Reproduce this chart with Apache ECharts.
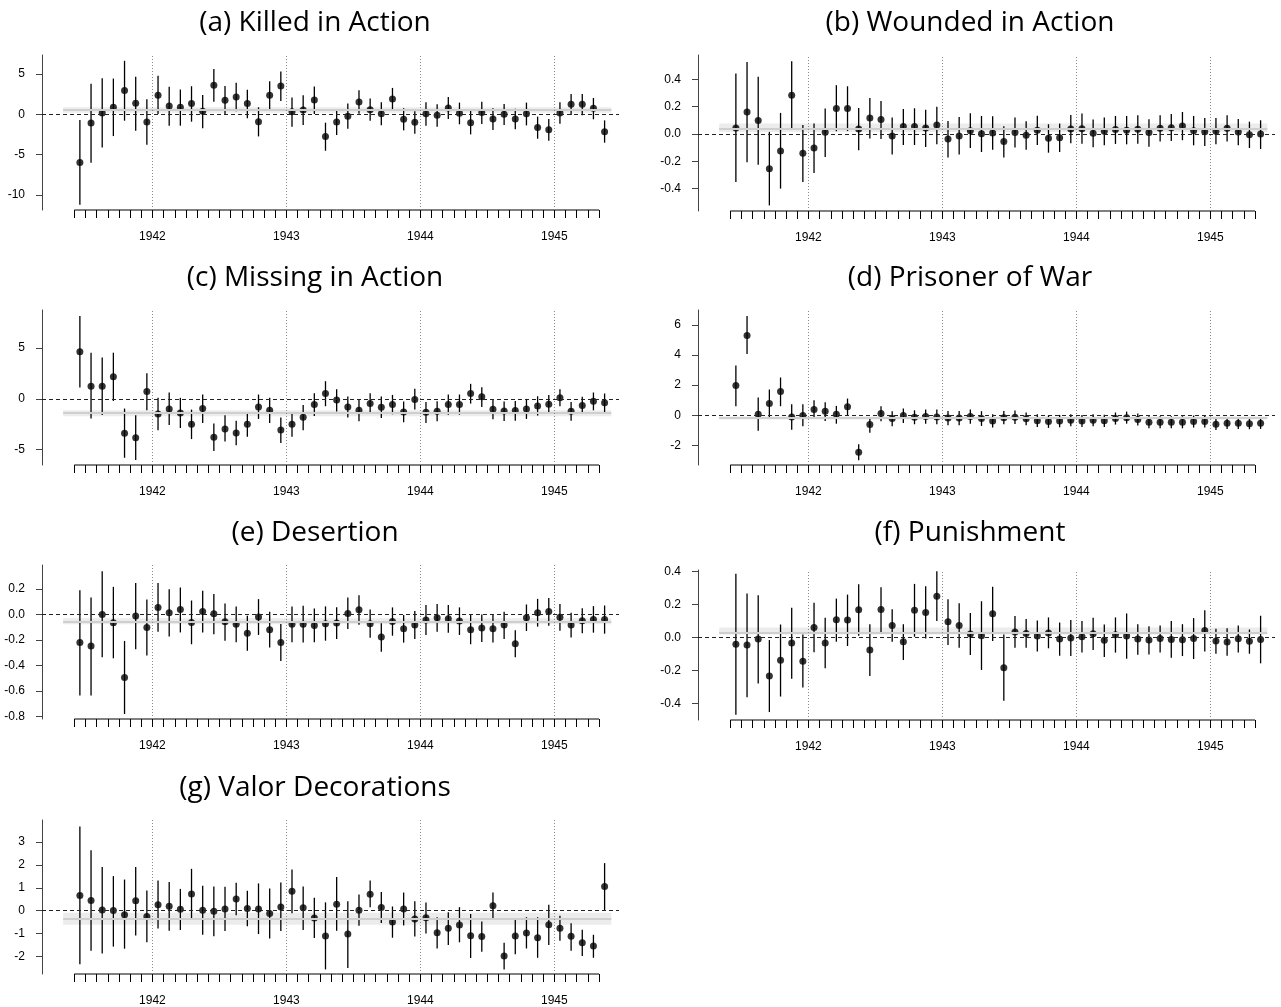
<!DOCTYPE html>
<html>
<head>
<meta charset="utf-8">
<script src="https://cdn.jsdelivr.net/npm/echarts@6/dist/echarts.min.js"></script>
<style>
html,body{margin:0;padding:0;background:#fff;}
#chart{width:1281px;height:1007px;}
</style>
</head>
<body>
<div id="chart"></div>
<script>
// ---------- categories (months, June 1941 .. May 1945) ----------
const months = ['1941-06','1941-07','1941-08','1941-09','1941-10','1941-11','1941-12',
 '1942-01','1942-02','1942-03','1942-04','1942-05','1942-06','1942-07','1942-08','1942-09','1942-10','1942-11','1942-12',
 '1943-01','1943-02','1943-03','1943-04','1943-05','1943-06','1943-07','1943-08','1943-09','1943-10','1943-11','1943-12',
 '1944-01','1944-02','1944-03','1944-04','1944-05','1944-06','1944-07','1944-08','1944-09','1944-10','1944-11','1944-12',
 '1945-01','1945-02','1945-03','1945-04','1945-05'];
const yearLabels = ['1942','1943','1944','1945'];

// ---------- (a) Killed in Action ----------
const kiaEst = [-5.97,-1.08,0.17,0.87,2.94,1.37,-0.95,2.36,1.04,0.87,1.33,0.37,3.6,1.74,2.15,1.33,-0.91,2.36,3.52,0.33,0.54,1.78,-2.74,-0.95,-0.25,1.53,0.58,0.08,1.91,-0.62,-0.99,0.08,-0.12,0.79,0.12,-1.04,0.21,-0.58,0.0,-0.58,0.08,-1.62,-1.91,0.17,1.24,1.24,0.75,-2.15];
const kiaLo = [-11.2,-6.0,-4.1,-2.7,-0.79,-2.03,-3.77,0.04,-1.41,-1.41,-0.91,-1.74,1.57,-0.04,0.37,-0.5,-2.74,0.58,1.66,-1.53,-1.33,0.04,-4.52,-2.57,-1.78,0.08,-0.79,-1.37,0.5,-1.99,-2.4,-1.41,-1.53,-0.58,-1.24,-2.49,-1.2,-1.95,-1.33,-1.86,-1.37,-3.03,-3.27,-1.16,-0.08,-0.12,-0.62,-3.52];
const kiaHi = [-0.7,3.8,4.48,4.43,6.63,4.64,1.86,4.77,3.4,3.07,3.48,2.4,5.6,3.52,3.9,3.03,0.87,4.1,5.3,2.07,2.36,3.44,-1.04,0.66,1.33,2.98,1.95,1.49,3.27,0.75,0.37,1.49,1.24,2.15,1.45,0.41,1.57,0.75,1.28,0.7,1.45,-0.29,-0.58,1.49,2.53,2.53,2.03,-0.75];
const kiaBand = [0.2, 0.53, 0.87];
const kiaTicks = [-10,-5,0,5];

// ---------- (b) Wounded in Action ----------
const wiaEst = [0.044,0.161,0.098,-0.254,-0.125,0.283,-0.142,-0.103,0.012,0.186,0.186,0.037,0.117,0.105,-0.015,0.054,0.054,0.044,0.066,-0.037,-0.015,0.024,0.002,0.007,-0.056,0.01,-0.01,0.027,-0.032,-0.027,0.037,0.039,0.005,0.02,0.032,0.027,0.034,0.01,0.042,0.046,0.059,0.024,0.017,0.02,0.042,0.015,-0.005,0.0];
const wiaLo = [-0.352,-0.208,-0.225,-0.523,-0.4,0.032,-0.352,-0.286,-0.168,0.02,0.022,-0.12,-0.034,-0.037,-0.151,-0.081,-0.081,-0.095,-0.076,-0.173,-0.151,-0.103,-0.132,-0.115,-0.173,-0.1,-0.115,-0.081,-0.137,-0.132,-0.068,-0.071,-0.098,-0.083,-0.073,-0.076,-0.071,-0.093,-0.056,-0.051,-0.046,-0.083,-0.088,-0.076,-0.056,-0.083,-0.103,-0.11];
const wiaHi = [0.442,0.527,0.418,0.015,0.154,0.532,0.066,0.076,0.186,0.357,0.349,0.19,0.264,0.242,0.12,0.183,0.188,0.178,0.2,0.095,0.125,0.151,0.132,0.129,0.056,0.12,0.093,0.134,0.071,0.076,0.139,0.149,0.105,0.12,0.132,0.132,0.137,0.107,0.137,0.147,0.161,0.132,0.117,0.117,0.137,0.11,0.09,0.1];
const wiaBand = [0.015, 0.04, 0.076];
const wiaTicks = [-0.4,-0.2,0,0.2,0.4];

// ---------- (c) Missing in Action ----------
const miaEst = [4.64,1.25,1.25,2.17,-3.39,-3.82,0.72,-1.48,-0.99,-1.38,-2.5,-0.95,-3.78,-2.96,-3.36,-2.5,-0.79,-1.12,-3.06,-2.5,-1.81,-0.56,0.53,-0.1,-0.79,-1.12,-0.46,-0.82,-0.56,-1.28,-0.07,-1.32,-1.22,-0.56,-0.56,0.53,0.2,-1.02,-1.18,-1.15,-0.99,-0.69,-0.53,0.1,-1.22,-0.66,-0.23,-0.39];
const miaLo = [1.12,-1.94,-1.58,-0.2,-5.79,-6.02,-1.12,-3.09,-2.57,-2.86,-3.95,-2.37,-5.13,-4.18,-4.57,-3.72,-1.97,-2.37,-4.34,-3.72,-3.09,-1.68,-0.72,-1.25,-1.84,-2.2,-1.45,-1.88,-1.51,-2.3,-1.05,-2.37,-2.2,-1.55,-1.55,-0.46,-0.79,-2.0,-2.17,-2.14,-1.97,-1.64,-1.45,-0.72,-2.14,-1.45,-1.12,-1.32];
const miaHi = [8.16,4.54,4.08,4.54,-0.95,-1.61,2.53,0.1,0.63,0.1,-1.05,0.43,-2.43,-1.61,-2.14,-1.35,0.43,0.1,-1.84,-1.32,-0.59,0.56,1.74,0.95,0.23,-0.03,0.56,0.23,0.39,-0.26,0.99,-0.3,-0.23,0.43,0.43,1.48,1.15,0.0,-0.26,-0.2,0.0,0.26,0.39,0.95,-0.3,0.2,0.63,0.53];
const miaBand = [-1.71, -1.38, -1.12];
const miaTicks = [-5,0,5];

// ---------- (d) Prisoner of War ----------
const powEst = [1.98,5.31,0.07,0.78,1.58,-0.11,-0.02,0.38,0.27,0.07,0.56,-2.47,-0.62,0.11,-0.22,-0.02,-0.13,-0.09,-0.11,-0.18,-0.18,-0.09,-0.22,-0.38,-0.16,-0.13,-0.24,-0.36,-0.42,-0.38,-0.33,-0.38,-0.33,-0.36,-0.22,-0.16,-0.29,-0.47,-0.47,-0.47,-0.47,-0.42,-0.42,-0.6,-0.53,-0.53,-0.56,-0.53];
const powLo = [0.6,4.07,-1.04,-0.16,0.6,-0.96,-0.73,-0.24,-0.38,-0.56,-0.02,-3.0,-1.16,-0.4,-0.73,-0.51,-0.6,-0.56,-0.6,-0.67,-0.67,-0.56,-0.71,-0.82,-0.6,-0.58,-0.67,-0.78,-0.84,-0.8,-0.73,-0.78,-0.73,-0.78,-0.62,-0.56,-0.69,-0.87,-0.87,-0.87,-0.87,-0.82,-0.82,-0.98,-0.91,-0.91,-0.93,-0.91];
const powHi = [3.31,6.6,1.18,1.71,2.51,0.73,0.73,1.0,0.87,0.62,1.11,-1.93,-0.11,0.6,0.27,0.44,0.33,0.38,0.38,0.29,0.29,0.38,0.27,0.07,0.29,0.31,0.18,0.07,-0.02,0.02,0.07,0.02,0.07,0.04,0.18,0.24,0.11,-0.07,-0.07,-0.07,-0.07,-0.02,-0.02,-0.22,-0.16,-0.16,-0.18,-0.16];
const powBand = [-0.28, -0.18, -0.08];
const powTicks = [-2,0,2,4,6];

// ---------- (e) Desertion ----------
const desEst = [-0.221,-0.247,0.0,-0.065,-0.495,-0.013,-0.102,0.055,0.013,0.039,-0.063,0.023,0.005,-0.057,-0.078,-0.148,-0.021,-0.12,-0.221,-0.078,-0.078,-0.086,-0.073,-0.068,0.008,0.036,-0.073,-0.177,-0.055,-0.112,-0.083,-0.044,-0.026,-0.034,-0.052,-0.12,-0.107,-0.112,-0.083,-0.229,-0.026,0.013,0.023,-0.023,-0.083,-0.049,-0.039,-0.039];
const desLo = [-0.635,-0.635,-0.336,-0.344,-0.781,-0.273,-0.323,-0.135,-0.174,-0.141,-0.234,-0.141,-0.156,-0.206,-0.219,-0.284,-0.161,-0.26,-0.365,-0.219,-0.221,-0.219,-0.206,-0.193,-0.115,-0.081,-0.182,-0.292,-0.167,-0.221,-0.193,-0.161,-0.135,-0.143,-0.161,-0.234,-0.216,-0.221,-0.193,-0.336,-0.13,-0.096,-0.089,-0.128,-0.18,-0.148,-0.143,-0.151];
const desHi = [0.19,0.133,0.339,0.216,-0.208,0.247,0.117,0.247,0.198,0.211,0.109,0.185,0.161,0.086,0.063,-0.01,0.12,0.021,-0.076,0.063,0.068,0.047,0.063,0.057,0.133,0.151,0.039,-0.07,0.055,-0.005,0.026,0.073,0.081,0.073,0.055,-0.005,0.0,0.0,0.021,-0.125,0.078,0.122,0.128,0.081,0.013,0.049,0.065,0.07];
const desBand = [-0.078, -0.057, -0.031];
const desTicks = [-0.8,-0.6,-0.4,-0.2,0,0.2];

// ---------- (f) Punishment ----------
const punEst = [-0.042,-0.046,-0.01,-0.233,-0.139,-0.034,-0.145,0.06,-0.034,0.107,0.105,0.167,-0.076,0.169,0.072,-0.026,0.165,0.151,0.249,0.094,0.072,0.02,0.01,0.143,-0.183,0.032,0.024,0.008,0.026,-0.01,-0.004,0.004,0.022,-0.018,0.016,0.008,-0.01,-0.016,-0.006,-0.012,-0.014,-0.006,0.042,-0.022,-0.028,-0.008,-0.024,-0.012];
const punLo = [-0.468,-0.362,-0.279,-0.452,-0.358,-0.251,-0.304,-0.09,-0.187,-0.026,-0.052,0.01,-0.233,0.03,-0.026,-0.137,0.004,-0.006,0.1,-0.046,-0.062,-0.107,-0.197,-0.022,-0.384,-0.062,-0.062,-0.086,-0.066,-0.111,-0.113,-0.092,-0.076,-0.119,-0.092,-0.129,-0.105,-0.103,-0.092,-0.123,-0.113,-0.131,-0.086,-0.099,-0.111,-0.092,-0.099,-0.157];
const punHi = [0.386,0.265,0.255,-0.016,0.078,0.179,0.018,0.209,0.119,0.235,0.259,0.322,0.08,0.304,0.171,0.08,0.324,0.31,0.4,0.231,0.207,0.147,0.219,0.306,0.018,0.129,0.111,0.103,0.121,0.09,0.105,0.1,0.119,0.078,0.121,0.145,0.08,0.068,0.072,0.099,0.08,0.117,0.165,0.052,0.056,0.072,0.048,0.131];
const punBand = [0.018, 0.03, 0.06];
const punTicks = [-0.4,-0.2,0,0.2,0.4];

// ---------- (g) Valor Decorations ----------
const valEst = [0.66,0.44,0.03,0.0,-0.18,0.43,-0.26,0.26,0.19,0.06,0.73,0.01,-0.03,0.07,0.51,0.09,0.07,-0.13,0.16,0.85,0.12,-0.32,-1.11,0.28,-1.03,0.01,0.72,0.13,-0.5,0.07,-0.37,-0.31,-0.97,-0.78,-0.63,-1.1,-1.14,0.21,-1.99,-1.11,-0.98,-1.19,-0.62,-0.78,-1.13,-1.41,-1.55,1.06];
const valLo = [-2.35,-1.76,-1.88,-1.58,-1.67,-1.09,-1.39,-0.79,-0.88,-0.85,-0.37,-1.06,-1.13,-0.89,-0.21,-0.69,-1.03,-1.22,-0.89,-0.12,-0.85,-1.2,-2.58,-0.88,-2.52,-0.67,0.15,-0.54,-1.19,-0.65,-1.14,-1.0,-1.66,-1.51,-1.39,-2.08,-1.8,-0.4,-2.58,-1.91,-1.66,-2.07,-1.51,-1.32,-1.76,-1.99,-2.07,0.01];
const valHi = [3.69,2.64,1.91,1.51,1.36,1.91,0.88,1.32,1.25,0.95,1.83,1.09,1.06,1.04,1.22,0.87,1.19,0.97,1.23,1.8,1.06,0.56,0.36,1.47,0.41,0.7,1.32,0.81,0.18,0.79,0.41,0.35,-0.29,-0.07,0.15,-0.15,-0.48,0.79,-1.41,-0.32,-0.29,-0.29,0.26,-0.23,-0.56,-0.84,-1.06,2.08];
const valBand = [-0.62, -0.35, -0.1];
const valTicks = [-2,-1,0,1,2,3];

// ---------- panel assembly (data references + layout) ----------
const panels = [
  {title:'(a) Killed in Action',   est:kiaEst, lo:kiaLo, hi:kiaHi, band:kiaBand, ticks:kiaTicks, dec:0},
  {title:'(b) Wounded in Action',  est:wiaEst, lo:wiaLo, hi:wiaHi, band:wiaBand, ticks:wiaTicks, dec:1},
  {title:'(c) Missing in Action',  est:miaEst, lo:miaLo, hi:miaHi, band:miaBand, ticks:miaTicks, dec:0},
  {title:'(d) Prisoner of War',    est:powEst, lo:powLo, hi:powHi, band:powBand, ticks:powTicks, dec:0},
  {title:'(e) Desertion',          est:desEst, lo:desLo, hi:desHi, band:desBand, ticks:desTicks, dec:1},
  {title:'(f) Punishment',         est:punEst, lo:punLo, hi:punHi, band:punBand, ticks:punTicks, dec:1},
  {title:'(g) Valor Decorations',  est:valEst, lo:valLo, hi:valHi, band:valBand, ticks:valTicks, dec:0}
];
// layout: grid box + y range
const layout = [
  {left:42,  top:55,  height:155, ymin:-11.86, ymax:7.35,  tx:315, ty:23},
  {left:698, top:55,  height:156, ymin:-0.564, ymax:0.578, tx:970, ty:23},
  {left:42,  top:310, height:155, ymin:-6.5,   ymax:8.74,  tx:315, ty:278},
  {left:698, top:310, height:155, ymin:-3.31,  ymax:7.0,   tx:970, ty:278},
  {left:42,  top:565, height:154, ymin:-0.82,  ymax:0.3875,tx:315, ty:533},
  {left:698, top:570, height:150, ymin:-0.5,   ymax:0.408, tx:970, ty:533},
  {left:42,  top:820, height:154, ymin:-2.78,  ymax:3.97,  tx:315, ty:788}
];
const XMIN = -2.893, XMAX = 48.79, GRIDW = 577;
const tickPos = months.map((m, i) => i);
const yearPos = yearLabels.map(y => months.indexOf(y + '-01'));
const FONT = 'Liberation Sans, Arial, Helvetica, sans-serif';

const grids = [], xAxes = [], yAxes = [], series = [], graphics = [];
panels.forEach((p, k) => {
  const L = layout[k];
  grids.push({left:L.left, top:L.top, width:GRIDW, height:L.height, containLabel:false, outerBoundsMode:'none'});
  xAxes.push({
    type:'value', gridIndex:k, min:XMIN, max:XMAX, position:'bottom',
    axisLine:{show:false, onZero:false}, splitLine:{show:false},
    axisTick:{show:true, customValues:tickPos, length:8, lineStyle:{color:'#000', width:1}},
    axisLabel:{show:true, customValues:yearPos, margin:21, fontSize:12, fontFamily:FONT, color:'#000',
      formatter:(v) => yearLabels[yearPos.indexOf(Math.round(v))] || ''}
  });
  yAxes.push({
    type:'value', gridIndex:k, min:L.ymin, max:L.ymax,
    axisLine:{show:true, onZero:false, lineStyle:{color:'#444', width:1}},
    splitLine:{show:false},
    axisTick:{show:true, customValues:p.ticks, length:6, lineStyle:{color:'#444', width:1}},
    axisLabel:{show:true, customValues:p.ticks, margin:17, fontSize:12, fontFamily:FONT, color:'#000',
      formatter:(v) => Number(v).toFixed(p.dec)}
  });
  // background band, reference lines and x-axis baseline
  series.push({
    type:'line', xAxisIndex:k, yAxisIndex:k, z:1, silent:true, clip:false,
    symbol:'none', animation:false,
    data:[[tickPos[0], L.ymin], [tickPos[tickPos.length-1], L.ymin]],
    lineStyle:{color:'#000', width:1},
    markArea:{silent:true, itemStyle:{color:'#ececec'},
      data:[[{coord:[-1, p.band[0]]}, {coord:[48.1, p.band[2]]}]]},
    markLine:{silent:true, symbol:['none','none'], label:{show:false}, animation:false,
      data:[
        [{coord:[-1, p.band[1]], lineStyle:{color:'#cfcfcf', width:2, type:'solid'}}, {coord:[48.1, p.band[1]]}],
        ...yearPos.map(x => ({xAxis:x, lineStyle:{color:'#8a8a8a', width:1, type:[1,2]}})),
        {yAxis:0, lineStyle:{color:'#222', width:1, type:[4,3]}}
      ]}
  });
  // confidence intervals
  series.push({
    type:'custom', xAxisIndex:k, yAxisIndex:k, z:3, silent:true, animation:false,
    data:p.est.map((v, j) => [tickPos[j] + 0.5, p.lo[j], p.hi[j]]),
    encode:{x:0, y:[1,2]},
    renderItem:(params, api) => {
      const x = api.value(0);
      const a = api.coord([x, api.value(1)]);
      const b = api.coord([x, api.value(2)]);
      return {type:'line', shape:{x1:a[0], y1:a[1], x2:b[0], y2:b[1]},
        style:{stroke:'#000', lineWidth:1.3}};
    }
  });
  // point estimates
  series.push({
    type:'scatter', xAxisIndex:k, yAxisIndex:k, z:4, silent:true, animation:false,
    symbol:'circle', symbolSize:7, itemStyle:{color:'#000'},
    data:p.est.map((v, j) => [tickPos[j] + 0.5, v])
  });
  graphics.push({type:'text', x:L.tx, y:L.ty, silent:true,
    style:{text:p.title, font:'28px "Open Sans", Lato, sans-serif', fill:'#000', align:'center', verticalAlign:'middle'}});
});

const chart = echarts.init(document.getElementById('chart'), null, {renderer:'canvas'});
chart.setOption({
  animation:false,
  backgroundColor:'#fff',
  grid:grids, xAxis:xAxes, yAxis:yAxes, series:series, graphic:graphics
});
</script>
</body>
</html>
